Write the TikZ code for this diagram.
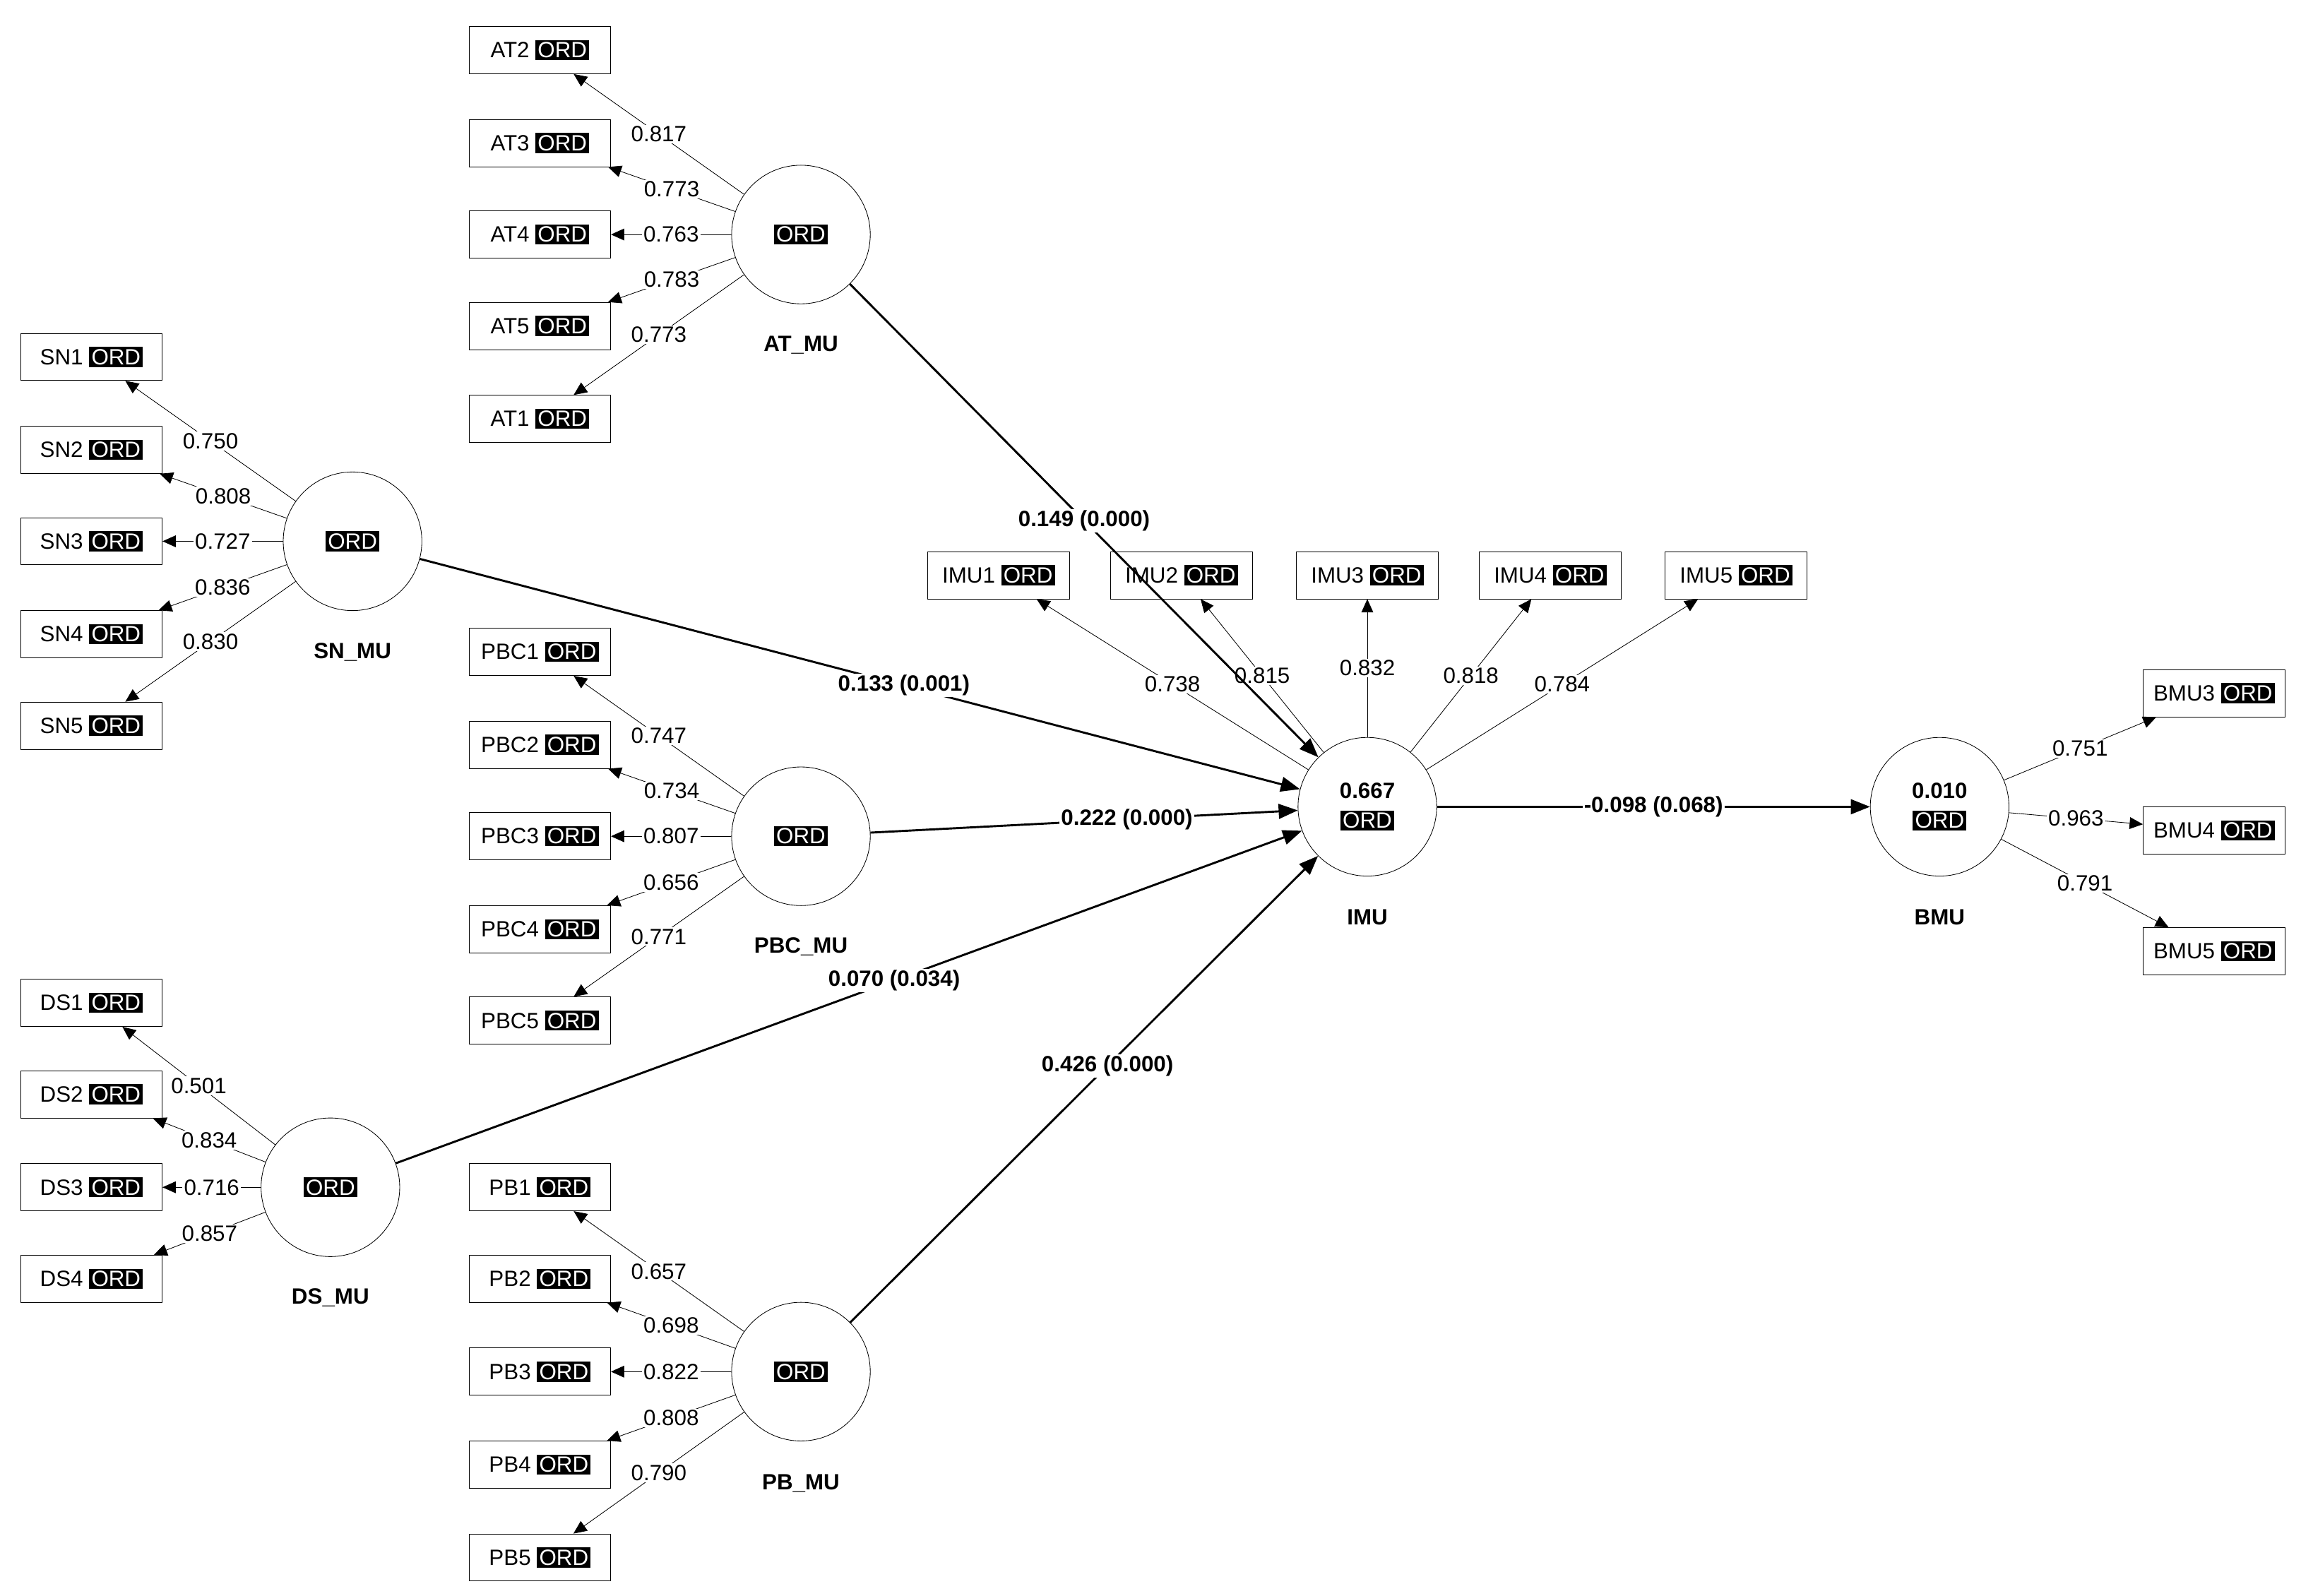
\documentclass[tikz,border=0pt]{standalone}
\usepackage{fontspec}
\setmainfont{Liberation Sans}
\usetikzlibrary{arrows.meta}
\newcommand{\ordtag}{{\setlength{\fboxsep}{1.5pt}\colorbox{black}{\textcolor{white}{ORD}}}}
\tikzstyle{lv_n} = [circle, draw=black, fill=white, align=center, inner sep=0pt, minimum size=94pt, font=\fontsize{15}{18}\selectfont]
\tikzstyle{ind_x} = [rectangle, draw=black, fill=white, inner sep=2pt, minimum width=96pt, minimum height=32pt, font=\fontsize{15}{18}\selectfont]
\tikzstyle{lv_lab} = [font=\fontsize{15}{18}\selectfont\bfseries]
\tikzstyle{load_e} = [-{Triangle[length=9pt,width=8pt]}, thin]
\tikzstyle{path_e} = [-{Triangle[length=13pt,width=10pt]}, line width=1.4pt]
\tikzstyle{load_l} = [fill=white, inner sep=1pt, font=\fontsize{15}{18}\selectfont]
\tikzstyle{path_l} = [fill=white, inner sep=1pt, font=\fontsize{15}{18}\selectfont\bfseries]

\begin{document}
\begin{tikzpicture}[x=1pt,y=-1pt]
\useasboundingbox (0,0) rectangle (1560,1082);
% latent variables
\node [lv_n] (AT_MU) at (543,159) {\ordtag};
\node [lv_n] (SN_MU) at (239,367) {\ordtag};
\node [lv_n] (PBC_MU) at (543,567) {\ordtag};
\node [lv_n] (DS_MU) at (224,805) {\ordtag};
\node [lv_n] (PB_MU) at (543,930) {\ordtag};
\node [lv_n] (IMU) at (927,547) {\textbf{0.667}\\[2pt]\ordtag};
\node [lv_n] (BMU) at (1315,547) {\textbf{0.010}\\[2pt]\ordtag};
\node [lv_lab] at (543,234) {AT\_MU};
\node [lv_lab] at (239,442) {SN\_MU};
\node [lv_lab] at (543,642) {PBC\_MU};
\node [lv_lab] at (224,880) {DS\_MU};
\node [lv_lab] at (543,1006) {PB\_MU};
\node [lv_lab] at (927,622) {IMU};
\node [lv_lab] at (1315,622) {BMU};
% indicators
\foreach \n/\y in {AT2/34, AT3/97, AT4/159, AT5/221, AT1/284}
  \node [ind_x] (\n) at (366,\y) {\n\ \ordtag};
\foreach \n/\y in {SN1/242, SN2/305, SN3/367, SN4/430, SN5/492}
  \node [ind_x] (\n) at (62,\y) {\n\ \ordtag};
\foreach \n/\y in {PBC1/442, PBC2/505, PBC3/567, PBC4/630, PBC5/692}
  \node [ind_x] (\n) at (366,\y) {\n\ \ordtag};
\foreach \n/\y in {DS1/680, DS2/742, DS3/805, DS4/867}
  \node [ind_x] (\n) at (62,\y) {\n\ \ordtag};
\foreach \n/\y in {PB1/805, PB2/867, PB3/930, PB4/993, PB5/1056}
  \node [ind_x] (\n) at (366,\y) {\n\ \ordtag};
\foreach \n/\x in {IMU1/677, IMU2/801, IMU3/927, IMU4/1051, IMU5/1177}
  \node [ind_x] (\n) at (\x,390) {\n\ \ordtag};
\foreach \n/\y in {BMU3/470, BMU4/563, BMU5/645}
  \node [ind_x] (\n) at (1501,\y) {\n\ \ordtag};
% loadings
\foreach \f/\t/\v in {AT_MU/AT2/0.817, AT_MU/AT3/0.773, AT_MU/AT4/0.763, AT_MU/AT5/0.783, AT_MU/AT1/0.773,
  SN_MU/SN1/0.750, SN_MU/SN2/0.808, SN_MU/SN3/0.727, SN_MU/SN4/0.836, SN_MU/SN5/0.830,
  PBC_MU/PBC1/0.747, PBC_MU/PBC2/0.734, PBC_MU/PBC3/0.807, PBC_MU/PBC4/0.656, PBC_MU/PBC5/0.771,
  DS_MU/DS1/0.501, DS_MU/DS2/0.834, DS_MU/DS3/0.716, DS_MU/DS4/0.857,
  PB_MU/PB1/0.657, PB_MU/PB2/0.698, PB_MU/PB3/0.822, PB_MU/PB4/0.808, PB_MU/PB5/0.790,
  IMU/IMU1/0.738, IMU/IMU2/0.815, IMU/IMU3/0.832, IMU/IMU4/0.818, IMU/IMU5/0.784,
  BMU/BMU3/0.751, BMU/BMU4/0.963, BMU/BMU5/0.791}
  \draw [load_e] (\f) -- node [load_l] {\v} (\t);
% paths
\draw [path_e] (AT_MU) -- node [path_l, pos=0.5] {0.149 (0.000)} (IMU);
\draw [path_e] (SN_MU) -- node [path_l, pos=0.55] {0.133 (0.001)} (IMU);
\draw [path_e] (PBC_MU) -- node [path_l, pos=0.6] {0.222 (0.000)} (IMU);
\draw [path_e] (DS_MU) -- node [path_l, pos=0.55] {0.070 (0.034)} (IMU);
\draw [path_e] (PB_MU) -- node [path_l, pos=0.55] {0.426 (0.000)} (IMU);
\draw [path_e] (IMU) -- node [path_l] {-0.098 (0.068)} (BMU);
\end{tikzpicture}
\end{document}
